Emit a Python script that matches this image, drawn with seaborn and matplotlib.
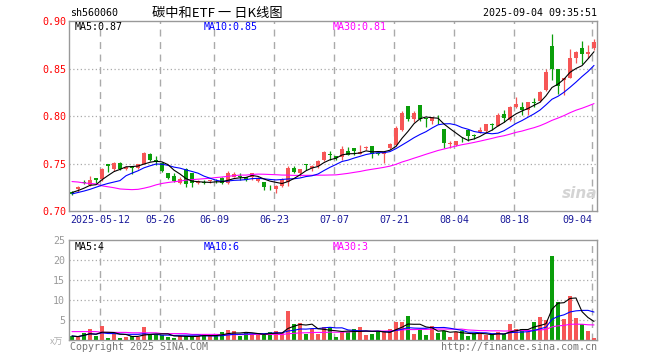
import numpy as np
import pandas as pd
import matplotlib
matplotlib.use("Agg")
import matplotlib.pyplot as plt
import matplotlib.transforms as mtransforms
import seaborn as sns

# ---------------- data ----------------
opens = [0.7200, 0.7230, 0.7302, 0.7270, 0.7345, 0.7335, 0.7495, 0.7445, 0.7510, 0.7445,
         0.7465, 0.7450, 0.7500, 0.7605, 0.7540, 0.7510, 0.7400, 0.7370, 0.7300, 0.7440,
         0.7405, 0.7290, 0.7305, 0.7315, 0.7320, 0.7350, 0.7290, 0.7360, 0.7370, 0.7355,
         0.7355, 0.7320, 0.7310, 0.7255, 0.7228, 0.7263, 0.7310, 0.7456, 0.7400, 0.7490,
         0.7450, 0.7470, 0.7540, 0.7600, 0.7580, 0.7570, 0.7630, 0.7660, 0.7600, 0.7662,
         0.7680, 0.7612, 0.7600, 0.7660, 0.7700, 0.7850, 0.8107, 0.7964, 0.8115, 0.7975,
         0.7950, 0.7950, 0.7860, 0.7710, 0.7695, 0.7762, 0.7850, 0.7800, 0.7828, 0.7841,
         0.7915, 0.7900, 0.8017, 0.7960, 0.8097, 0.8097, 0.8062, 0.8148, 0.8157, 0.8272,
         0.8735, 0.8500, 0.8377, 0.8402, 0.8612, 0.8717, 0.8648, 0.8711]
highs = [0.7210, 0.7265, 0.7330, 0.7370, 0.7350, 0.7450, 0.7500, 0.7520, 0.7520, 0.7470,
         0.7470, 0.7500, 0.7620, 0.7610, 0.7580, 0.7515, 0.7400, 0.7400, 0.7360, 0.7455,
         0.7405, 0.7330, 0.7330, 0.7330, 0.7340, 0.7355, 0.7420, 0.7410, 0.7400, 0.7360,
         0.7400, 0.7360, 0.7310, 0.7270, 0.7270, 0.7350, 0.7470, 0.7470, 0.7445, 0.7490,
         0.7480, 0.7540, 0.7630, 0.7630, 0.7580, 0.7680, 0.7670, 0.7660, 0.7690, 0.7685,
         0.7680, 0.7625, 0.7625, 0.7715, 0.7890, 0.8050, 0.8107, 0.8050, 0.8115, 0.7980,
         0.7990, 0.8015, 0.7865, 0.7740, 0.7740, 0.7780, 0.7852, 0.7810, 0.7880, 0.7920,
         0.7930, 0.8030, 0.8060, 0.8110, 0.8200, 0.8150, 0.8150, 0.8185, 0.8260, 0.8497,
         0.8858, 0.8500, 0.8402, 0.8710, 0.8680, 0.8787, 0.8746, 0.8810]
lows = [0.7170, 0.7205, 0.7280, 0.7260, 0.7290, 0.7320, 0.7410, 0.7420, 0.7430, 0.7430,
        0.7385, 0.7440, 0.7490, 0.7530, 0.7480, 0.7410, 0.7340, 0.7310, 0.7280, 0.7255,
        0.7255, 0.7280, 0.7280, 0.7300, 0.7290, 0.7285, 0.7280, 0.7355, 0.7330, 0.7320,
        0.7330, 0.7310, 0.7220, 0.7220, 0.7190, 0.7255, 0.7260, 0.7405, 0.7370, 0.7430,
        0.7420, 0.7450, 0.7530, 0.7540, 0.7540, 0.7540, 0.7585, 0.7590, 0.7595, 0.7640,
        0.7560, 0.7590, 0.7510, 0.7655, 0.7680, 0.7840, 0.7950, 0.7940, 0.7950, 0.7885,
        0.7915, 0.7920, 0.7665, 0.7667, 0.7680, 0.7730, 0.7736, 0.7760, 0.7820, 0.7830,
        0.7850, 0.7890, 0.7940, 0.7950, 0.8085, 0.8010, 0.8010, 0.8097, 0.8150, 0.8262,
        0.8377, 0.8227, 0.8220, 0.8395, 0.8553, 0.8543, 0.8606, 0.8693]
closes = [0.7180, 0.7250, 0.7295, 0.7330, 0.7330, 0.7440, 0.7470, 0.7505, 0.7445, 0.7465,
          0.7455, 0.7495, 0.7610, 0.7540, 0.7520, 0.7420, 0.7350, 0.7320, 0.7336, 0.7280,
          0.7290, 0.7315, 0.7300, 0.7320, 0.7312, 0.7290, 0.7395, 0.7390, 0.7362, 0.7328,
          0.7395, 0.7345, 0.7255, 0.7250, 0.7263, 0.7333, 0.7450, 0.7414, 0.7442, 0.7480,
          0.7477, 0.7530, 0.7620, 0.7590, 0.7560, 0.7650, 0.7590, 0.7630, 0.7625, 0.7670,
          0.7600, 0.7605, 0.7620, 0.7705, 0.7870, 0.8027, 0.7967, 0.8027, 0.7964, 0.7965,
          0.7985, 0.7944, 0.7720, 0.7720, 0.7735, 0.7755, 0.7790, 0.7792, 0.7852, 0.7912,
          0.7910, 0.8010, 0.7975, 0.8095, 0.8122, 0.8062, 0.8143, 0.8140, 0.8254, 0.8465,
          0.8500, 0.8318, 0.8402, 0.8612, 0.8669, 0.8648, 0.8675, 0.8780]
volumes = [1.0, 0.7, 1.8, 2.75, 1.0, 3.5, 0.6, 1.5, 0.6, 0.7,
           1.0, 0.7, 3.25, 1.25, 1.25, 1.25, 0.7, 0.6, 1.0, 1.0,
           1.0, 1.0, 1.5, 1.0, 1.0, 2.0, 2.5, 2.25, 1.0, 1.8,
           1.5, 1.5, 1.25, 2.0, 2.25, 1.7, 7.25, 4.0, 4.25, 1.5,
           2.8, 1.5, 3.25, 3.2, 0.8, 1.9, 2.0, 2.75, 3.3, 1.25,
           1.6, 2.1, 1.9, 2.75, 4.6, 4.6, 6.1, 1.6, 2.8, 1.25,
           3.6, 1.8, 2.25, 0.8, 1.9, 2.25, 1.1, 1.7, 1.4, 1.25,
           1.25, 2.1, 1.4, 4.0, 2.8, 2.8, 2.1, 4.6, 5.8, 5.0,
           21.0, 9.6, 5.25, 11.1, 5.6, 3.9, 2.25, 0.4]

# moving-average values at the left edge (they depend on days before the window)
ma5_lead = [0.7195, 0.7215, 0.7240, 0.7270]
ma10_lead = [0.7180, 0.7195, 0.7210, 0.7228, 0.7250, 0.7272, 0.7290, 0.7305, 0.7320]
ma30_lead = [0.7310, 0.7305, 0.7295, 0.7290, 0.7285, 0.7265, 0.7255, 0.7245, 0.7232, 0.7228,
             0.7225, 0.7228, 0.7240, 0.7255, 0.7275, 0.7290, 0.7300, 0.7308, 0.7315, 0.7325,
             0.7330, 0.7335, 0.7340, 0.7345, 0.7352, 0.7358, 0.7365, 0.7372, 0.7378]
vol_ma30_lead = [2.1, 2.1, 2.1, 2.1, 2.1, 1.9, 1.9, 1.9, 1.9, 1.9,
                 1.8, 1.8, 1.8, 1.8, 1.8, 1.6, 1.6, 1.6, 1.6, 1.6,
                 1.4, 1.4, 1.4, 1.4, 1.4, 1.35, 1.35, 1.35, 1.35]

date_index = [5, 15, 24, 34, 44, 54, 64, 74, 87]
date_labels = ["2025-05-12", "05-26", "06-09", "06-23", "07-07", "07-21", "08-04", "08-18", "09-04"]
price_ticks = [0.70, 0.75, 0.80, 0.85, 0.90]
vol_ticks = [5, 10, 15, 20, 25]

symbol = "sh560060"
title = "碳中和ETF 一 日K线图"
stamp = "2025-09-04 09:35:51"

# ---------------- derived series ----------------
df = pd.DataFrame({"open": opens, "high": highs, "low": lows, "close": closes, "vol": volumes})
df["i"] = np.arange(len(df))
c = df["close"]
v = df["vol"]
df["ma5"] = c.rolling(5).mean()
df.loc[:len(ma5_lead) - 1, "ma5"] = ma5_lead
df["ma10"] = c.rolling(10).mean()
df.loc[:len(ma10_lead) - 1, "ma10"] = ma10_lead
df["ma30"] = c.rolling(30).mean()
df.loc[:len(ma30_lead) - 1, "ma30"] = ma30_lead
df["vma5"] = v.rolling(5, min_periods=1).mean()
df["vma10"] = v.rolling(10, min_periods=1).mean()
df["vma30"] = v.rolling(30).mean()
df.loc[:len(vol_ma30_lead) - 1, "vma30"] = vol_ma30_lead

RED = "#f65656"
GREEN = "#0a9e0a"
up = df["close"] >= df["open"]
colors = np.where(up, RED, GREEN)

# ---------------- figure ----------------
sns.set_theme(style="white")
MONO = ["DejaVu Sans Mono"]
plt.rcParams["font.family"] = MONO
W, H = 660, 360
fig = plt.figure(figsize=(W / 100, H / 100), dpi=100)
fig.patch.set_facecolor("white")


def rect(l, t, r, b):
    return [l / W, 1 - b / H, (r - l) / W, (b - t) / H]


L, R = 69, 597.3
ax = fig.add_axes(rect(L, 21, R, 211))
axv = fig.add_axes(rect(L, 240, R, 340))
xlim = (-0.5, 87.55)

GRID = "#aaaaaa"
for a in (ax, axv):
    a.set_facecolor("white")
    a.set_xlim(*xlim)
    for s in a.spines.values():
        s.set_color("#999999")
        s.set_linewidth(1.0)
    a.tick_params(length=0)
    a.set_xticks([])
    for d in date_index:
        a.axvline(d - 0.35, color=GRID, lw=1, ls=(0, (5, 4)), zorder=0)

ax.set_ylim(0.70, 0.90)
for y in price_ticks[1:-1]:
    ax.axhline(y, color=GRID, lw=0.9, ls=(0, (1, 2)), zorder=0)
ax.set_yticks(price_ticks)
ax.set_yticklabels([f"{t:.2f}" for t in price_ticks], color="red", fontsize=7.2)
ax.tick_params(axis="y", pad=2)

axv.set_ylim(0, 25)
for y in vol_ticks[:-1]:
    axv.axhline(y, color=GRID, lw=0.9, ls=(0, (1, 2)), zorder=0)
axv.set_yticks(vol_ticks)
axv.set_yticklabels([str(t) for t in vol_ticks], color="#9a9a9a", fontsize=7.2)
axv.tick_params(axis="y", pad=3)

# candles
body_lo = np.minimum(df["open"], df["close"])
body_h = np.maximum(np.abs(df["close"] - df["open"]), 0.0007)
ax.vlines(df["i"], df["low"], df["high"], colors=colors, lw=0.9, zorder=2)
ax.bar(df["i"], body_h, bottom=body_lo, width=0.8, color=colors, lw=0, zorder=3)

# moving averages (seaborn)
LW = 0.8
sns.lineplot(data=df, x="i", y="ma30", ax=ax, color="#ff00ff", lw=LW, zorder=4)
sns.lineplot(data=df, x="i", y="ma10", ax=ax, color="#0000ff", lw=LW, zorder=5)
sns.lineplot(data=df, x="i", y="ma5", ax=ax, color="black", lw=LW, zorder=6)

# volume
axv.bar(df["i"], df["vol"], width=0.8, color=colors, lw=0, zorder=2)
sns.lineplot(data=df, x="i", y="vma30", ax=axv, color="#ff00ff", lw=LW, zorder=4)
sns.lineplot(data=df, x="i", y="vma10", ax=axv, color="#0000ff", lw=LW, zorder=5)
sns.lineplot(data=df, x="i", y="vma5", ax=axv, color="black", lw=LW, zorder=6)

for a in (ax, axv):
    a.set_xlabel("")
    a.set_ylabel("")
    a.set_xlim(*xlim)

# MA labels
fs = 7.2
def px_text(x, y, s, **kw):
    fig.text(x / W, 1 - y / H, s, **kw)

last = df.iloc[-1]
px_text(75, 27, f"MA5:{last['ma5']:.2f}", color="black", fontsize=fs, va="center")
px_text(204, 27, f"MA10:{last['ma10']:.2f}", color="#0000ff", fontsize=fs, va="center")
px_text(333, 27, f"MA30:{last['ma30']:.2f}", color="#ff00ff", fontsize=fs, va="center")
px_text(75, 247, f"MA5:{int(last['vma5'])}", color="black", fontsize=fs, va="center")
px_text(204, 247, f"MA10:{int(last['vma10'])}", color="#0000ff", fontsize=fs, va="center")
px_text(333, 247, f"MA30:{int(last['vma30'])}", color="#ff00ff", fontsize=fs, va="center")

# date labels
trans = mtransforms.blended_transform_factory(ax.transData, fig.transFigure)
for k, (d, lab) in enumerate(zip(date_index, date_labels)):
    ha = "right" if k == len(date_index) - 1 else "center"
    xx = d - 0.35 if ha == "center" else d - 0.3
    ax.text(xx, 1 - 219.5 / H, lab, transform=trans, ha=ha, va="center",
            color="#1a1a9a", fontsize=fs)

# header
px_text(70, 13, symbol, color="black", fontsize=fs, va="center")
px_text(217, 13, title, color="black", fontsize=9.5, va="center", ha="center",
        family=["Noto Sans CJK SC", "DejaVu Sans"])
px_text(597, 13, stamp, color="black", fontsize=fs, va="center", ha="right")

# footer
px_text(70, 347, "Copyright 2025 SINA.COM", color="#777777", fontsize=fs, va="center")
px_text(597, 347, "http://finance.sina.com.cn", color="#777777", fontsize=fs, va="center", ha="right")
px_text(63, 342, "x万", color="#b0b0b0", fontsize=6.5, va="center", ha="right",
        family=["Noto Sans CJK SC", "DejaVu Sans"], style="italic")

# watermark
px_text(580, 193, "sina", color="#d4d4d4", fontsize=11, va="center", ha="center",
        family=["DejaVu Sans"], weight="bold", style="italic")

fig.savefig("out.png", dpi=100, facecolor="white")
